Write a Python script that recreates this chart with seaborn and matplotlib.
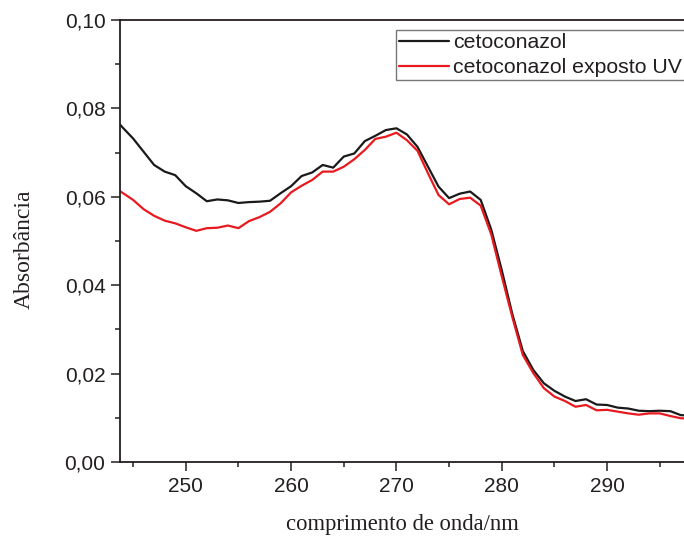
import numpy as np
import pandas as pd
import matplotlib
matplotlib.use("Agg")
import matplotlib.pyplot as plt
import seaborn as sns
from matplotlib.ticker import MultipleLocator, FuncFormatter

# Wavelength grid (nm) and absorbance of both samples
wavelength = [243, 244, 245, 246, 247, 248, 249, 250, 251, 252, 253, 254, 255,
              256, 257, 258, 259, 260, 261, 262, 263, 264, 265, 266, 267, 268,
              269, 270, 271, 272, 273, 274, 275, 276, 277, 278, 279, 280, 281,
              282, 283, 284, 285, 286, 287, 288, 289, 290, 291, 292, 293, 294,
              295, 296, 297, 298]

cetoconazol = [0.0784, 0.0757, 0.0732, 0.0702, 0.0672, 0.0657, 0.0649, 0.0624,
               0.0608, 0.0590, 0.0594, 0.0592, 0.0586, 0.0588, 0.0589, 0.0591,
               0.0608, 0.0624, 0.0647, 0.0655, 0.0672, 0.0666, 0.0691, 0.0698,
               0.0726, 0.0738, 0.0751, 0.0755, 0.0741, 0.0713, 0.0668, 0.0623,
               0.0597, 0.0607, 0.0612, 0.0593, 0.0526, 0.0434, 0.0335, 0.0251,
               0.0208, 0.0178, 0.0161, 0.0148, 0.0138, 0.0142, 0.0130, 0.0129,
               0.0123, 0.0121, 0.0116, 0.0115, 0.0116, 0.0115, 0.0106, 0.0105]

cetoconazol_uv = [0.0624, 0.0609, 0.0593, 0.0572, 0.0557, 0.0546, 0.0540, 0.0531,
                  0.0523, 0.0529, 0.0530, 0.0535, 0.0529, 0.0545, 0.0554, 0.0566,
                  0.0585, 0.0610, 0.0625, 0.0638, 0.0657, 0.0657, 0.0668, 0.0685,
                  0.0706, 0.0731, 0.0736, 0.0745, 0.0728, 0.0704, 0.0653, 0.0604,
                  0.0583, 0.0595, 0.0598, 0.0580, 0.0515, 0.0420, 0.0328, 0.0242,
                  0.0201, 0.0167, 0.0148, 0.0138, 0.0125, 0.0129, 0.0117, 0.0118,
                  0.0114, 0.0110, 0.0107, 0.0110, 0.0110, 0.0104, 0.0099, 0.0098]

series_names = ["cetoconazol", "cetoconazol exposto UV"]
series_colors = ["#1a1a1a", "#e8191f"]

x_ticks = [250, 260, 270, 280, 290]
y_ticks = [0.00, 0.02, 0.04, 0.06, 0.08, 0.10]

df = pd.DataFrame({
    "wavelength": wavelength * 2,
    "absorbance": cetoconazol + cetoconazol_uv,
    "amostra": [series_names[0]] * len(wavelength) + [series_names[1]] * len(wavelength),
})

sns.set_style("ticks")
plt.rcParams["font.family"] = ["Liberation Sans", "DejaVu Sans"]
axis_color = "#231f20"

fig = plt.figure(figsize=(6.84, 5.38), dpi=100)
ax = fig.add_axes([120 / 684, 76 / 538, 1 - 120 / 684, (462 - 20) / 538])

sns.lineplot(data=df, x="wavelength", y="absorbance", hue="amostra",
             hue_order=series_names, palette=series_colors,
             linewidth=1.6, ax=ax, legend=False)

ax.set_xlim(243.76, 297.3)
ax.set_ylim(0.0, 0.10)
ax.set_xticks(x_ticks)
ax.set_yticks(y_ticks)
ax.xaxis.set_minor_locator(MultipleLocator(5))
ax.yaxis.set_minor_locator(MultipleLocator(0.01))
ax.yaxis.set_major_formatter(FuncFormatter(lambda v, p: f"{v:.2f}".replace(".", ",")))

ax.tick_params(axis="both", which="major", length=6.5, width=1.1,
               color=axis_color, labelsize=15, labelcolor=axis_color, pad=4)
ax.tick_params(axis="both", which="minor", length=3.5, width=1.1, color=axis_color)

for side in ["left", "bottom", "top"]:
    ax.spines[side].set_color(axis_color)
    ax.spines[side].set_linewidth(1.3)
ax.spines["right"].set_visible(False)

ax.set_xlabel("comprimento de onda/nm", family=["Liberation Serif"],
              fontsize=16.3, color=axis_color, labelpad=13)
ax.set_ylabel("Absorbância", family=["Liberation Serif"],
              fontsize=17, color=axis_color)
ax.yaxis.set_label_coords(-0.152, 0.482)

handles = [plt.Line2D([], [], color=c, linewidth=1.6) for c in series_colors]
leg = fig.legend(handles, series_names, loc="upper left",
                 bbox_to_anchor=(396 / 684, 1 - 30 / 538),
                 fontsize=15.3, frameon=True, fancybox=False,
                 handlelength=2.35, handletextpad=0.2, labelspacing=0.28,
                 borderpad=0.15, borderaxespad=0)
leg.get_frame().set_edgecolor("#555555")
leg.get_frame().set_linewidth(1.0)
for t in leg.get_texts():
    t.set_color(axis_color)

fig.savefig("out.png", dpi=100)
